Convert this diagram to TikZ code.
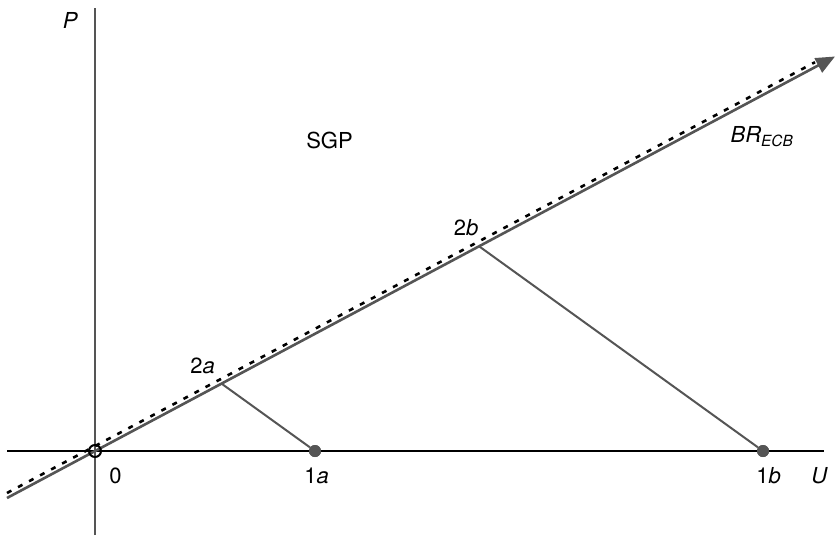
\documentclass[tikz,border=0pt]{standalone}
\usepackage{fontspec}
\setmainfont{TeX Gyre Heros}
\usetikzlibrary{arrows.meta,positioning}
\definecolor{linegray}{HTML}{555555}

\begin{document}
\begin{tikzpicture}[x=1pt, y=-1pt,
    font=\fontsize{22}{26}\selectfont,
    axis/.style={line width=1.3pt},
    br/.style={line width=2.6pt, linegray},
    brdash/.style={line width=2.6pt, dash pattern=on 5pt off 7.5pt},
    seg/.style={line width=2pt, linegray},
    dot/.style={circle, fill=linegray, inner sep=0pt, minimum size=12pt},
    lbl/.style={anchor=base, inner sep=0pt}]
    \useasboundingbox (0,0) rectangle (836,539);
    % points
    \coordinate (O) at (95,451);
    \coordinate (xl) at (7,451);
    \coordinate (xr) at (824,451);
    \coordinate (yb) at (95,535);
    \coordinate (yt) at (95,8);
    \coordinate (brl) at (7,498);
    \coordinate (brr) at (835,56.5);
    \coordinate (dl) at (7,493);
    \coordinate (dr) at (815,62.2);
    \coordinate (A2) at (221.5,383.6);
    \coordinate (B2) at (479.1,246.3);
    \node[dot] (A1) at (315,451) {};
    \node[dot] (B1) at (763,451) {};
    % axes and lines
    \draw[axis] (xl) -- (xr);
    \draw[seg] (yb) -- (yt);
    \draw[br, -{Triangle[length=19pt, width=16pt]}] (brl) -- (brr);
    \draw[brdash] (dl) -- (dr);
    \draw[seg] (A2) -- (A1);
    \draw[seg] (B2) -- (B1);
    \node[dot] at (A1) {};
    \node[dot] at (B1) {};
    \node[circle, draw, line width=2pt, inner sep=0pt, minimum size=12pt] (orig) at (O) {};
    % labels
    \node[lbl] (zero) at (115.5,483) {0};
    \node[lbl] (onea) at (316.5,483) {1\textit{a}};
    \node[lbl] (oneb) at (768.5,483) {1\textit{b}};
    \node[lbl] (U) at (819.5,483) {\textit{U}};
    \node[lbl] (twoa) at (202.5,373) {2\textit{a}};
    \node[lbl] (twob) at (466,235) {2\textit{b}};
    \node[lbl] (P) at (70.5,28) {\textit{P}};
    \node[lbl] (sgp) at (329.5,148) {SGP};
    \node[lbl] (brecb) at (762,142) {\textit{BR}\textsubscript{\textit{ECB}}};
\end{tikzpicture}
\end{document}
